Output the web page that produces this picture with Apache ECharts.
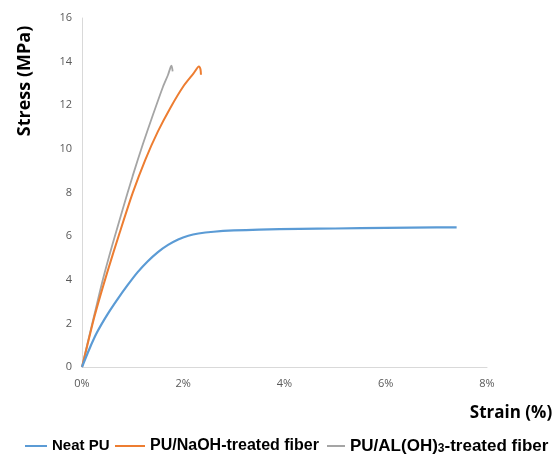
<!DOCTYPE html>
<html>
<head>
<meta charset="utf-8">
<script src="https://cdn.jsdelivr.net/npm/echarts@6/dist/echarts.min.js"></script>
<style>html,body{margin:0;padding:0;background:#fff}#c{width:556px;height:454px}</style>
</head>
<body>
<div id="c"></div>
<script>
var seriesNames = ['Neat PU', 'PU/NaOH-treated fiber', 'PU/AL(OH)3-treated fiber'];
var xTicks = [0, 2, 4, 6, 8];
var yTicks = [0, 2, 4, 6, 8, 10, 12, 14, 16];
var neatPU = [[0,0],[0.15,0.85],[0.3,1.6],[0.5,2.4],[0.7,3.1],[0.9,3.75],[1.1,4.35],[1.3,4.85],[1.5,5.27],[1.7,5.6],[1.9,5.85],[2.1,6.02],[2.3,6.12],[2.6,6.2],[3.0,6.26],[3.5,6.3],[4.3,6.33],[5.0,6.35],[6.0,6.38],[7.0,6.4],[7.4,6.4]];
var naohFiber = [[0,0],[0.1,0.94],[0.25,2.35],[0.5,4.35],[0.75,6.2],[1.0,7.97],[1.25,9.5],[1.5,10.8],[1.75,11.9],[2.0,12.86],[2.2,13.45],[2.31,13.78],[2.34,13.65],[2.35,13.4]];
var alohFiber = [[0,0],[0.1,1.0],[0.25,2.45],[0.4,3.9],[0.6,5.6],[0.8,7.2],[1.0,8.75],[1.2,10.2],[1.4,11.55],[1.6,12.85],[1.7,13.4],[1.75,13.75],[1.77,13.82],[1.79,13.55]];
var colors = ['#5B9BD5', '#ED7D31', '#A5A5A5'];

var chart = echarts.init(document.getElementById('c'), null, {renderer: 'canvas'});
var datas = [neatPU, naohFiber, alohFiber];
var widths = [2.2, 2, 1.8];
var series = seriesNames.map(function (n, i) {
  return {
    name: n, type: 'line', data: datas[i], showSymbol: false, smooth: 0.25,
    lineStyle: {color: colors[i], width: widths[i]}, itemStyle: {color: colors[i]},
    z: 3 - i, animation: false
  };
});
function legendFor(i, left, iconW, fs) {
  return {
    left: left, top: 445 - fs / 2 - 4, itemWidth: iconW, itemHeight: 2, icon: 'rect',
    data: [seriesNames[i]],
    formatter: function (n) {
      if (n.indexOf('(OH)3') >= 0) {
        var parts = n.split('(OH)3');
        return '{a|' + parts[0] + '(OH)}{s|3}{a|' + parts[1] + '}';
      }
      return '{a|' + n + '}';
    },
    textStyle: {
      rich: {
        a: {fontFamily: 'Liberation Sans', fontWeight: 'bold', fontSize: fs, color: '#000'},
        s: {fontFamily: 'Liberation Sans', fontWeight: 'bold', fontSize: Math.round(fs * 0.68), color: '#000', verticalAlign: 'bottom', padding: [5, 0, 0, 0]}
      }
    }
  };
}
chart.setOption({
  animation: false,
  color: colors,
  grid: {left: 82, right: 69, top: 18, bottom: 87, containLabel: false},
  xAxis: {
    type: 'value', min: xTicks[0], max: xTicks[xTicks.length - 1], interval: 2,
    axisLine: {show: true, lineStyle: {color: '#d9d9d9', width: 1}},
    axisTick: {show: false}, splitLine: {show: false},
    axisLabel: {formatter: function (v) { return v + '%'; }, color: '#595959', fontFamily: 'Open Sans', fontSize: 11, margin: 11}
  },
  yAxis: {
    type: 'value', min: yTicks[0], max: yTicks[yTicks.length - 1], interval: 2,
    axisLine: {show: true, lineStyle: {color: '#d9d9d9', width: 1}},
    axisTick: {show: false}, splitLine: {show: false},
    axisLabel: {color: '#595959', fontFamily: 'Open Sans', fontSize: 11, margin: 10}
  },
  legend: [
    legendFor(0, 20, 22, 15),
    legendFor(1, 110, 30, 16),
    legendFor(2, 322, 18, 17)
  ],
  graphic: [
    {type: 'text', x: 25, y: 81, rotation: Math.PI / 2,
     style: {text: 'Stress (MPa)', fontFamily: 'Open Sans', fontWeight: 'bold', fontSize: 18, fill: '#000', textAlign: 'center', textVerticalAlign: 'middle'}},
    {type: 'text', x: 511, y: 413,
     style: {text: 'Strain (%)', fontFamily: 'Open Sans', fontWeight: 'bold', fontSize: 17, fill: '#000', textAlign: 'center', textVerticalAlign: 'middle'}}
  ],
  series: series
});
</script>
</body>
</html>
